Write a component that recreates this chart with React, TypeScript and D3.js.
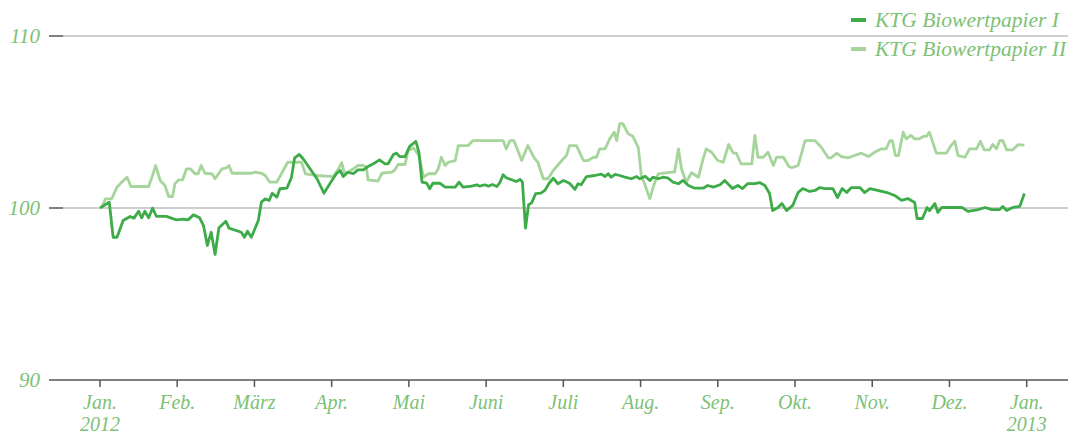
import React from 'react';
import * as d3 from 'd3';

// x-axis months (Jan. 2012 .. Jan. 2013), position = month index
const monthLabels = ['Jan.', 'Feb.', 'März', 'Apr.', 'Mai', 'Juni', 'Juli', 'Aug.', 'Sep.', 'Okt.', 'Nov.', 'Dez.', 'Jan.'];
const yearLabels: Record<number, string> = { 0: '2012', 12: '2013' };
const yTicks = [90, 100, 110];

const seriesNames = ['KTG Biowertpapier I', 'KTG Biowertpapier II'];

// [month position, index value]
const biowertI: [number, number][] = [
  [0.00, 100.0], [0.12, 100.34], [0.17, 98.3], [0.22, 98.3], [0.30, 99.27], [0.39, 99.51], [0.44, 99.41],
  [0.50, 99.81], [0.54, 99.43], [0.58, 99.81], [0.63, 99.43], [0.68, 99.99], [0.73, 99.52], [0.86, 99.51],
  [0.99, 99.31], [1.08, 99.35], [1.14, 99.31], [1.21, 99.6], [1.29, 99.43], [1.34, 98.98], [1.39, 97.82],
  [1.44, 98.59], [1.49, 97.3], [1.54, 98.85], [1.63, 99.23], [1.67, 98.83], [1.83, 98.59], [1.87, 98.3],
  [1.91, 98.65], [1.96, 98.3], [2.05, 99.27], [2.09, 100.34], [2.14, 100.53], [2.19, 100.44], [2.23, 100.86],
  [2.29, 100.63], [2.33, 101.12], [2.42, 101.15], [2.48, 101.79], [2.52, 102.92], [2.58, 103.11], [2.63, 102.86],
  [2.81, 101.7], [2.90, 100.86], [2.98, 101.44], [3.06, 101.99], [3.11, 102.18], [3.15, 101.83], [3.21, 102.08],
  [3.28, 101.99], [3.34, 102.22], [3.41, 102.22], [3.47, 102.41], [3.54, 102.57], [3.62, 102.8], [3.69, 102.57],
  [3.73, 102.57], [3.80, 103.11], [3.84, 103.19], [3.88, 102.99], [3.95, 102.99], [4.01, 103.58], [4.09, 103.87],
  [4.13, 103.24], [4.17, 101.5], [4.23, 101.44], [4.27, 101.12], [4.31, 101.44], [4.40, 101.44], [4.47, 101.21],
  [4.60, 101.21], [4.65, 101.5], [4.70, 101.21], [4.81, 101.27], [4.88, 101.35], [4.92, 101.27], [4.98, 101.35],
  [5.03, 101.27], [5.08, 101.37], [5.14, 101.25], [5.18, 101.5], [5.22, 101.93], [5.26, 101.76], [5.33, 101.64],
  [5.39, 101.54], [5.44, 101.66], [5.47, 101.5], [5.51, 98.83], [5.55, 100.19], [5.59, 100.3], [5.64, 100.83],
  [5.71, 100.86], [5.76, 101.02], [5.82, 101.47], [5.87, 101.73], [5.93, 101.41], [6.00, 101.6], [6.08, 101.44],
  [6.15, 101.08], [6.19, 101.41], [6.23, 101.35], [6.30, 101.83], [6.41, 101.89], [6.49, 101.97], [6.54, 101.83],
  [6.58, 101.99], [6.62, 101.79], [6.67, 101.95], [6.73, 101.89], [6.80, 101.79], [6.88, 101.7], [6.95, 101.83],
  [6.99, 101.7], [7.06, 101.85], [7.12, 101.6], [7.16, 101.79], [7.23, 101.7], [7.29, 101.79], [7.36, 101.73],
  [7.42, 101.5], [7.49, 101.41], [7.55, 101.6], [7.62, 101.31], [7.70, 101.15], [7.81, 101.15], [7.87, 101.31],
  [7.94, 101.21], [8.03, 101.35], [8.09, 101.6], [8.19, 101.13], [8.26, 101.31], [8.32, 101.13], [8.39, 101.42],
  [8.48, 101.42], [8.54, 101.48], [8.61, 101.31], [8.67, 100.84], [8.71, 99.85], [8.78, 100.03], [8.83, 100.26],
  [8.89, 99.85], [8.97, 100.15], [9.04, 100.9], [9.10, 101.13], [9.19, 100.96], [9.26, 101.02], [9.32, 101.19],
  [9.39, 101.13], [9.49, 101.13], [9.55, 100.61], [9.61, 101.13], [9.67, 100.9], [9.73, 101.19], [9.84, 101.19],
  [9.90, 100.9], [9.97, 101.13], [10.07, 101.02], [10.19, 100.9], [10.29, 100.73], [10.38, 100.44], [10.46, 100.55],
  [10.55, 100.32], [10.58, 99.39], [10.65, 99.39], [10.71, 100.03], [10.74, 99.85], [10.81, 100.26], [10.85, 99.74],
  [10.90, 100.03], [10.98, 100.03], [11.16, 100.03], [11.24, 99.8], [11.37, 99.91], [11.46, 100.03], [11.55, 99.91],
  [11.65, 99.91], [11.69, 100.09], [11.74, 99.85], [11.82, 100.03], [11.91, 100.09], [11.97, 100.84],
];

const biowertII: [number, number][] = [
  [0.02, 100.01], [0.07, 100.53], [0.15, 100.53], [0.22, 101.21], [0.28, 101.5], [0.35, 101.79], [0.40, 101.25],
  [0.63, 101.25], [0.69, 102.02], [0.72, 102.47], [0.78, 101.6], [0.84, 101.31], [0.89, 100.67], [0.94, 100.67],
  [0.97, 101.41], [1.02, 101.64], [1.07, 101.64], [1.12, 102.28], [1.17, 102.28], [1.23, 101.99], [1.27, 101.99],
  [1.31, 102.47], [1.36, 102.02], [1.45, 101.99], [1.49, 101.7], [1.58, 102.28], [1.64, 102.34], [1.67, 102.47],
  [1.71, 102.02], [1.96, 102.02], [2.01, 102.08], [2.09, 102.02], [2.14, 101.89], [2.20, 101.5], [2.29, 101.5],
  [2.35, 101.99], [2.43, 102.66], [2.61, 102.66], [2.66, 101.99], [2.81, 101.89], [3.02, 101.83], [3.08, 102.22],
  [3.13, 102.63], [3.17, 101.99], [3.21, 102.08], [3.28, 102.28], [3.34, 102.47], [3.41, 102.47], [3.45, 102.37],
  [3.47, 101.64], [3.60, 101.56], [3.65, 102.02], [3.78, 102.08], [3.82, 102.22], [3.86, 102.53], [3.95, 102.53],
  [3.99, 103.34], [4.06, 103.49], [4.13, 103.05], [4.19, 101.79], [4.25, 101.99], [4.34, 101.99], [4.38, 102.28],
  [4.42, 102.95], [4.47, 102.47], [4.51, 102.66], [4.60, 102.76], [4.64, 103.63], [4.77, 103.63], [4.83, 103.92],
  [5.22, 103.92], [5.26, 103.44], [5.31, 103.92], [5.36, 103.92], [5.46, 102.76], [5.54, 103.63], [5.63, 102.86],
  [5.67, 102.66], [5.74, 101.7], [5.80, 101.7], [5.87, 102.18], [5.98, 102.76], [6.04, 103.05], [6.08, 103.63],
  [6.17, 103.63], [6.26, 102.76], [6.32, 102.76], [6.39, 102.95], [6.43, 102.95], [6.47, 103.44], [6.54, 103.44],
  [6.60, 104.02], [6.66, 104.41], [6.69, 103.92], [6.73, 104.9], [6.77, 104.9], [6.84, 104.31], [6.90, 104.17],
  [6.97, 103.53], [7.01, 101.89], [7.06, 101.31], [7.12, 100.53], [7.17, 101.31], [7.23, 101.99], [7.40, 102.08],
  [7.44, 102.08], [7.49, 103.44], [7.53, 102.28], [7.59, 101.5], [7.66, 102.05], [7.75, 101.79], [7.81, 102.86],
  [7.85, 103.44], [7.92, 103.24], [8.00, 102.76], [8.07, 102.66], [8.14, 103.69], [8.20, 103.19], [8.24, 103.19],
  [8.30, 102.57], [8.44, 102.57], [8.48, 104.22], [8.52, 102.95], [8.59, 102.95], [8.65, 103.24], [8.72, 102.47],
  [8.76, 102.95], [8.85, 102.95], [8.92, 102.41], [8.96, 102.34], [9.04, 102.47], [9.13, 103.92], [9.26, 103.92],
  [9.34, 103.53], [9.43, 102.92], [9.47, 102.92], [9.54, 103.19], [9.60, 102.99], [9.69, 102.92], [9.77, 103.05],
  [9.86, 103.19], [9.95, 102.99], [10.03, 103.24], [10.12, 103.44], [10.18, 103.44], [10.23, 103.92], [10.26, 103.92],
  [10.30, 103.05], [10.34, 103.05], [10.40, 104.41], [10.44, 104.02], [10.50, 104.22], [10.55, 104.02], [10.61, 104.02],
  [10.66, 104.16], [10.70, 104.16], [10.74, 104.41], [10.83, 103.19], [10.96, 103.19], [11.02, 103.63], [11.07, 103.88],
  [11.11, 103.05], [11.20, 102.95], [11.26, 103.44], [11.35, 103.44], [11.40, 103.88], [11.45, 103.38], [11.52, 103.38],
  [11.56, 103.69], [11.61, 103.44], [11.65, 103.92], [11.69, 103.92], [11.74, 103.38], [11.82, 103.38], [11.89, 103.69],
  [11.97, 103.65],
];

const W = 1085;
const H = 436;
const labelGreen = '#7cc175';
const colors = ['#3cab48', '#a5d59b'];
const font = '"Liberation Serif", "DejaVu Serif", serif';

export default function App() {
  const x = d3.scaleLinear().domain([0, 12]).range([100, 1026.7]);
  const y = d3.scaleLinear().domain([90, 110]).range([380, 36]);
  const line = d3.line<[number, number]>().x(d => x(d[0])).y(d => y(d[1]));

  const axisLeft = 49;
  const axisRight = 1068;

  return (
    <svg width={W} height={H} style={{ position: 'absolute', left: 0, top: 0 }}
      fontFamily={font} fontStyle="italic">
      {/* gridlines */}
      {yTicks.filter(t => t !== 90).map(t => (
        <g key={t}>
          <line x1={63} x2={axisRight} y1={y(t)} y2={y(t)} stroke="#bdbdbd" strokeWidth={1.3} />
          <line x1={axisLeft} x2={63} y1={y(t)} y2={y(t)} stroke="#555" strokeWidth={1.5} />
        </g>
      ))}
      {/* y labels */}
      {yTicks.map(t => (
        <text key={t} x={40} y={y(t) + 7} textAnchor="end" fontSize={21} fill={labelGreen}>{t}</text>
      ))}
      {/* series */}
      <path d={line(biowertII) ?? ''} fill="none" stroke={colors[1]} strokeWidth={2.8} strokeLinejoin="round" />
      <path d={line(biowertI) ?? ''} fill="none" stroke={colors[0]} strokeWidth={2.8} strokeLinejoin="round" />
      {/* x axis */}
      <line x1={axisLeft} x2={axisRight} y1={y(90)} y2={y(90)} stroke="#555" strokeWidth={1.5} />
      {monthLabels.map((m, i) => (
        <g key={i} transform={`translate(${x(i)},0)`}>
          <line y1={y(90)} y2={y(90) + 7} stroke="#555" strokeWidth={1.5} />
          <text y={409} textAnchor="middle" fontSize={20} fill={labelGreen}>{m}</text>
          {yearLabels[i] && (
            <text y={431} textAnchor="middle" fontSize={20} fill={labelGreen}>{yearLabels[i]}</text>
          )}
        </g>
      ))}
      {/* legend */}
      {seriesNames.map((name, i) => (
        <g key={name} transform={`translate(851,${20 + i * 29})`}>
          <line x1={0} x2={15} y1={0} y2={0} stroke={colors[i]} strokeWidth={4} />
          <text x={24} y={7} fontSize={21.5} fill={labelGreen}>{name}</text>
        </g>
      ))}
    </svg>
  );
}
